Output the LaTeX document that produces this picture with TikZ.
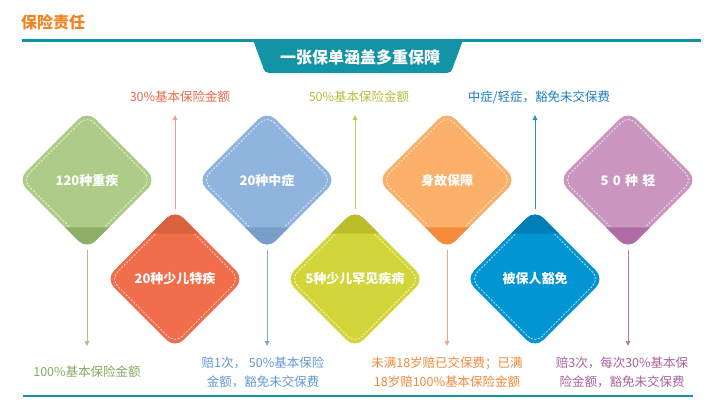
\documentclass[tikz,border=0pt]{standalone}
\usepackage{fontspec}
\setmainfont{Noto Sans CJK SC}
\usetikzlibrary{shapes.geometric,arrows.meta}
\definecolor{teal1}{HTML}{1394A6}
\definecolor{titleor}{HTML}{F08322}
\definecolor{cgreen}{HTML}{AECC87}\definecolor{dgreen}{HTML}{8FAE66}\definecolor{lgreen}{HTML}{A6C28A}\definecolor{tgreen}{HTML}{86AA5C}
\definecolor{cred}{HTML}{F06E4C}\definecolor{dred}{HTML}{D9623F}\definecolor{lred}{HTML}{F19C8C}\definecolor{tred}{HTML}{E8674A}
\definecolor{cblue}{HTML}{8FB4DD}\definecolor{dblue}{HTML}{7A9ECA}\definecolor{lblue}{HTML}{7EA7D8}\definecolor{tblue}{HTML}{6398D2}
\definecolor{cyel}{HTML}{D3D63B}\definecolor{dyel}{HTML}{BBBD2B}\definecolor{lyel}{HTML}{C3C85A}\definecolor{tyel}{HTML}{B6BC3D}
\definecolor{corg}{HTML}{FBB06A}\definecolor{dorg}{HTML}{F58C3B}\definecolor{lorg}{HTML}{F5A57A}\definecolor{torg}{HTML}{F0883C}
\definecolor{csky}{HTML}{0394D3}\definecolor{dsky}{HTML}{017DB8}\definecolor{lsky}{HTML}{2C8DC6}\definecolor{tsky}{HTML}{1B7EC0}
\definecolor{cpur}{HTML}{CA96BF}\definecolor{dpur}{HTML}{B06BA7}\definecolor{lpur}{HTML}{B67BAF}\definecolor{tpur}{HTML}{A8619F}
\newcommand{\innerdash}{%
  \draw[white, line width=0.6pt, dash pattern=on 2pt off 1.5pt, rounded corners=10pt]
    ([yshift=64.5pt]path picture bounding box.center) -- ([xshift=64.5pt]path picture bounding box.center)
    -- ([yshift=-64.5pt]path picture bounding box.center) -- ([xshift=-64.5pt]path picture bounding box.center) -- cycle;}
\tikzset{
  dia/.style={diamond, aspect=1, minimum width=139pt, minimum height=139pt, inner sep=0pt,
    rounded corners=12pt, text=white, font=\fontsize{13}{15}\selectfont\bfseries},
  dtop/.style 2 args={dia, fill=#1, path picture={\innerdash\fill[#2] ([yshift=22pt]path picture bounding box.south west) rectangle (path picture bounding box.south east);}},
  dbot/.style 2 args={dia, fill=#1, path picture={\innerdash\fill[#2] ([yshift=-24pt]path picture bounding box.north west) rectangle (path picture bounding box.north east);}},
  conn/.style={draw=#1, line width=0.9pt, -{Triangle[width=4.5pt,length=5pt]}},
  lbl/.style={font=\fontsize{12.5}{19}\selectfont, align=center, inner sep=0pt},
}
\begin{document}
\begin{tikzpicture}[x=1pt,y=-1pt]
\useasboundingbox (0,0) rectangle (720,410);
% header
\node[anchor=west, text=titleor, font=\fontsize{16}{18}\selectfont\bfseries, inner sep=0pt] (title) at (21,22) {保险责任};
\fill[teal1] (22,39) rectangle (701,41.5);
\fill[teal1] (253,40) -- (463,40) -- (453,67) [rounded corners=5pt] -- (452,73) -- (264,73) [sharp corners] -- (263,67) -- cycle;
\node[text=white, font=\fontsize{16}{18}\selectfont\bfseries, inner sep=0pt] (tab) at (360,57) {一张保单涵盖多重保障};
\fill[teal1] (23,395) rectangle (693,397);
% diamonds top row
\node[dtop={cgreen}{dgreen}, text depth=-3pt] (d1) at (87,180) {120种重疾};
\node[dtop={cblue}{dblue}, text depth=-3pt] (d3) at (267,180) {20种中症};
\node[dtop={corg}{dorg}, text depth=-3pt] (d5) at (447,180) {身故保障};
\node[dtop={cpur}{dpur}, text depth=-3pt] (d7) at (628,180) {5\,\,0\,\,种\,\,轻};
% diamonds bottom row
\node[dbot={cred}{dred}] (d2) at (175,279) {20种少儿特疾};
\node[dbot={cyel}{dyel}] (d4) at (355,279) {5种少儿罕见疾病};
\node[dbot={csky}{dsky}] (d6) at (535,279) {被保人豁免};
% arrow ends
\coordinate (a1) at (87,346);
\coordinate (a3) at (267,346);
\coordinate (a5) at (447,346);
\coordinate (a7) at (628,346);
\coordinate (a2) at (175,115);
\coordinate (a4) at (355,115);
\coordinate (a6) at (535,115);
\draw[conn=lgreen] (d1.south) -- (a1);
\draw[conn=lblue] (d3.south) -- (a3);
\draw[conn=lorg] (d5.south) -- (a5);
\draw[conn=lpur] (d7.south) -- (a7);
\draw[conn=lred] (d2.north) -- (a2);
\draw[conn=lyel] (d4.north) -- (a4);
\draw[conn=lsky] (d6.north) -- (a6);
% labels
\node[lbl, text=tred] (l2) at (180,97) {30\%基本保险金额};
\node[lbl, text=tyel] (l4) at (359,97) {50\%基本保险金额};
\node[lbl, text=tsky] (l6) at (539,97) {中症/轻症，豁免未交保费};
\node[lbl, text=tgreen] (l1) at (87,372) {100\%基本保险金额};
\node[lbl, text=tblue] (l3) at (263,372) {赔1次， 50\%基本保险\\金额，豁免未交保费};
\node[lbl, text=torg] (l5) at (447,372) {未满18岁赔已交保费；已满\\18岁赔100\%基本保险金额};
\node[lbl, text=tpur] (l7) at (622,372) {赔3次，每次30\%基本保\\险金额，豁免未交保费};
\end{tikzpicture}
\end{document}
